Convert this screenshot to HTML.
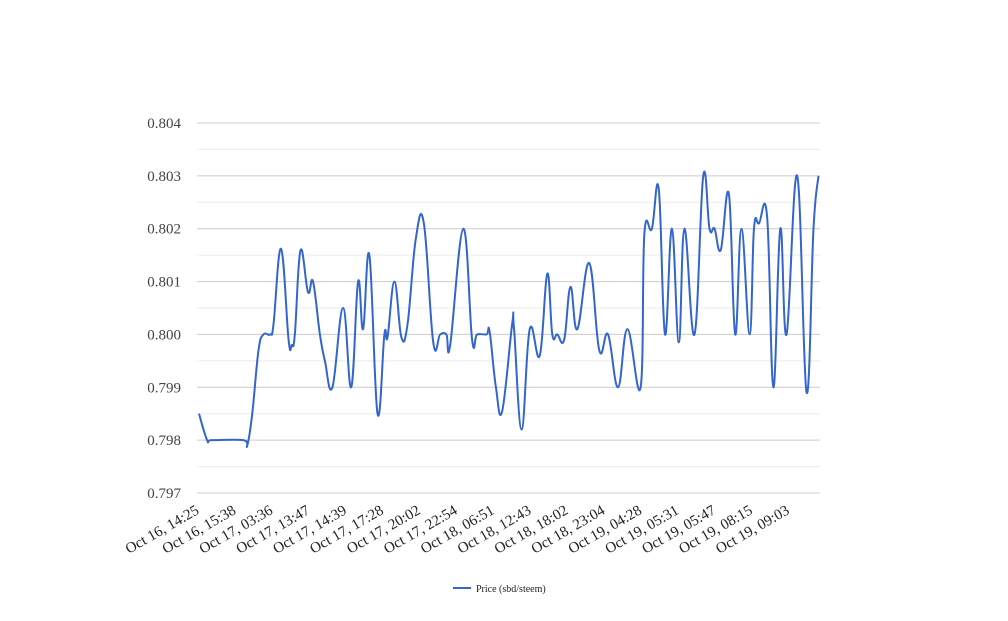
<!DOCTYPE html>
<html><head><meta charset="utf-8"><style>
body{margin:0;background:#fff;}
svg text{font-family:"Liberation Serif","DejaVu Serif",serif;}
</style></head><body>
<svg width="1008" height="616" viewBox="0 0 1008 616">
<g id="grid"></g><g id="yt"></g><g id="xt"></g>
<path id="line" fill="none" stroke="#3366cc" stroke-width="2"/>
<g>
<line x1="453" y1="588" x2="471" y2="588" stroke="#3366cc" stroke-width="2"/>
<text x="476" y="592" font-size="10" fill="#222">Price (sbd/steem)</text>
</g>
</svg>
<script>
const xLabels=["Oct 16, 14:25","Oct 16, 15:38","Oct 17, 03:36","Oct 17, 13:47","Oct 17, 14:39","Oct 17, 17:28","Oct 17, 20:02","Oct 17, 22:54","Oct 18, 06:51","Oct 18, 12:43","Oct 18, 18:02","Oct 18, 23:04","Oct 19, 04:28","Oct 19, 05:31","Oct 19, 05:47","Oct 19, 08:15","Oct 19, 09:03"];
const yTicks=[0.797,0.798,0.799,0.800,0.801,0.802,0.803,0.804];
// time position (0..100 scale) and price
const tPos=[0,1.3,2.1,7.1,7.7,8.5,9.5,10.3,11.4,11.9,13.1,14.3,14.8,15.3,16.2,17.4,18.2,19.3,20.1,21.3,23.0,24.3,25.4,26.2,27.2,28.5,29.6,30.1,31.2,32.3,33.3,34.6,35.9,37.4,38.5,39.5,40.1,42.2,43.6,44.4,45.9,46.4,47.4,48.4,50.0,50.3,51.5,52.8,54.4,55.6,56.4,57.2,58.3,59.3,60.4,62.3,63.9,65.3,66.9,68.4,70.5,71.1,72.3,73.4,74.4,75.5,76.6,77.5,79.1,80.5,81.5,82.3,83.3,84.6,85.6,86.6,87.9,88.6,89.4,90.7,91.7,92.8,93.8,95.5,97.0,98.1,98.9];
const price=[0.7985,0.7980,0.7980,0.7980,0.7979,0.7985,0.7997,0.8000,0.8000,0.8002,0.80162,0.7999,0.7998,0.8000,0.80159,0.8008,0.8010,0.8000,0.7995,0.7990,0.8005,0.7990,0.8010,0.8001,0.8015,0.7985,0.8000,0.79995,0.8010,0.79995,0.8002,0.8018,0.8021,0.79985,0.8000,0.8000,0.7998,0.8020,0.7999,0.8000,0.8000,0.80005,0.7990,0.79855,0.8002,0.8001,0.7982,0.8001,0.7996,0.80115,0.8000,0.8000,0.7999,0.8009,0.8001,0.80135,0.7997,0.8000,0.7990,0.8001,0.7990,0.8019,0.8020,0.80275,0.8000,0.8020,0.79985,0.8020,0.8000,0.8030,0.8020,0.8020,0.8016,0.80265,0.8000,0.8020,0.8000,0.8020,0.8021,0.80222,0.7990,0.8020,0.8000,0.8030,0.7989,0.8020,0.8030,0.8030];
const NS="http://www.w3.org/2000/svg";
const X0=199,X1=818.5,Y0=493,Y1=123;
const xs=t=>X0+(X1-X0)*t/Math.max(...tPos);
const ys=v=>Y0-(v-0.797)/(0.804-0.797)*(Y0-Y1);
function mk(tag,at,par){const e=document.createElementNS(NS,tag);for(const k in at)e.setAttribute(k,at[k]);document.getElementById(par).appendChild(e);return e;}
for(let i=0;i<yTicks.length;i++){
 const y=ys(yTicks[i]);
 const l=mk('line',{x1:197,x2:820,y1:y,y2:y,stroke:'#cccccc','stroke-width':1},'grid');
 
 
 if(i<yTicks.length-1){const ym=ys(yTicks[i]+0.0005);
 const m=mk('line',{x1:197,x2:820,y1:ym,y2:ym,stroke:'#ebebeb','stroke-width':1},'grid');
 
 }
 const t=mk('text',{x:181,y:y+5,'text-anchor':'end','font-size':15,fill:'#444'},'yt');
 
 
 t.textContent=yTicks[i].toFixed(3);
}
for(let i=0;i<xLabels.length;i++){
 const x=200+i*36.9,y=513;
 const t=mk('text',{x:x,y:y,'text-anchor':'end','font-size':15,fill:'#222',transform:`rotate(-30 ${x} ${y})`},'xt');
 
 
 t.textContent=xLabels[i];
}
const P=tPos.map((t,i)=>[xs(t),ys(price[i])]);
let d=`M${P[0][0]},${P[0][1]}`;
for(let i=0;i<P.length-1;i++){
 const p0=P[Math.max(0,i-1)],p1=P[i],p2=P[i+1],p3=P[Math.min(P.length-1,i+2)];
 const k=0.2;
 d+=` C${p1[0]+(p2[0]-p0[0])*k},${p1[1]+(p2[1]-p0[1])*k} ${p2[0]-(p3[0]-p1[0])*k},${p2[1]-(p3[1]-p1[1])*k} ${p2[0]},${p2[1]}`;
}
document.getElementById('line').setAttribute('d',d);
</script>
</body></html>
